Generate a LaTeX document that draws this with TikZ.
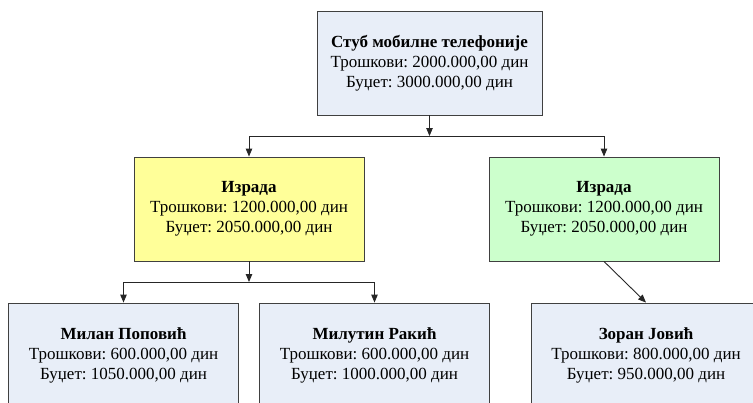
\documentclass[tikz,border=0pt]{standalone}
\usepackage{fontspec}
\setmainfont{Liberation Serif}
\usetikzlibrary{arrows.meta}
\frenchspacing

\definecolor{unitblue}{RGB}{232,238,248}
\definecolor{unityellow}{RGB}{255,255,153}
\definecolor{unitgreen}{RGB}{204,255,204}

\tikzset{
  unit/.style={draw=black!75, line width=0.9pt, fill=unitblue, minimum width=230pt, minimum height=104pt,
    align=center, inner sep=0pt, font=\fontsize{17}{20}\selectfont},
  link/.style={draw=black!85, line width=0.9pt, -{Triangle[length=8pt,width=6.5pt]}}
}

\begin{document}
\begin{tikzpicture}[x=1pt, y=-1pt]
\useasboundingbox (0,0) rectangle (753,402);
\clip (0,0) rectangle (753,402);

\node[unit, minimum width=225pt] at (429.5,63) (stub) {\textbf{Стуб мобилне телефоније}\\Трошкови: 2000.000,00 дин\\Буџет: 3000.000,00 дин};

\node[unit, fill=unityellow] at (249,209) (izl) {\textbf{Израда}\\Трошкови: 1200.000,00 дин\\Буџет: 2050.000,00 дин};
\node[unit, fill=unitgreen] at (604,209) (izd) {\textbf{Израда}\\Трошкови: 1200.000,00 дин\\Буџет: 2050.000,00 дин};

\node[unit] at (123.5,355) (milan) {\textbf{Милан Поповић}\\Трошкови: 600.000,00 дин\\Буџет: 1050.000,00 дин};
\node[unit] at (374.5,355) (milutin) {\textbf{Милутин Ракић}\\Трошкови: 600.000,00 дин\\Буџет: 1000.000,00 дин};
\node[unit] at (646,355) (zoran) {\textbf{Зоран Јовић}\\Трошкови: 800.000,00 дин\\Буџет: 950.000,00 дин};

% junctions
\coordinate (j1) at (429.5,136);
\coordinate (j2) at (249,282);

\draw[link] (stub.south) -- (j1);
\draw[link] (j1) -| (izl.north);
\draw[link] (j1) -| (izd.north);

\draw[link] (izl.south) -- (j2);
\draw[link] (j2) -| (milan.north);
\draw[link] (j2) -| (milutin.north);

\draw[link] (izd.south) -- (zoran.north);
\end{tikzpicture}
\end{document}
